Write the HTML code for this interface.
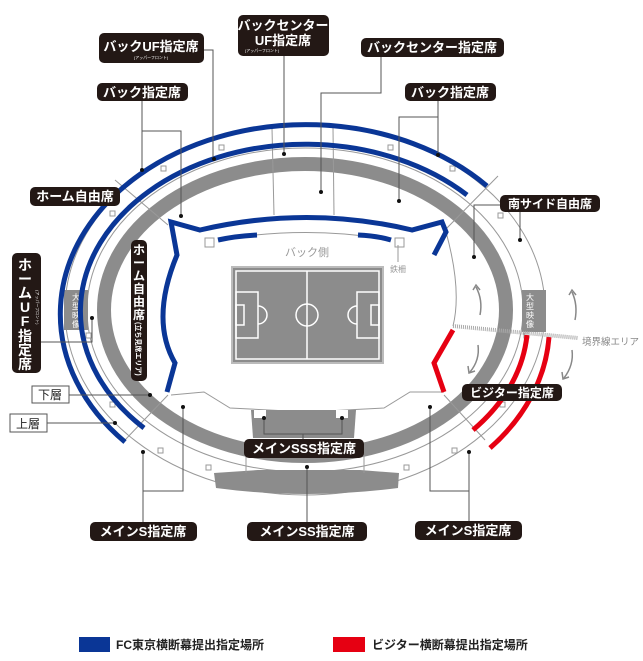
<!DOCTYPE html>
<html><head><meta charset="utf-8">
<style>
body{margin:0;background:#fff;width:643px;height:661px;overflow:hidden;position:relative;font-family:"Liberation Sans","Noto Sans CJK JP",sans-serif;}
svg{position:absolute;left:0;top:0}
</style></head><body>
<svg width="643" height="661" viewBox="0 0 643 661" font-family="Liberation Sans, Noto Sans CJK JP, sans-serif">
<ellipse cx="305" cy="310" rx="240" ry="185" fill="none" stroke="#999" stroke-width="1"/>
<ellipse cx="305" cy="310" rx="218" ry="162" fill="none" stroke="#999" stroke-width="1"/>
<path d="M214,473 L258,470 L360,470 L399,473 L398,488 Q305,500 216,488 Z" fill="#8c8c8c"/>
<ellipse cx="305" cy="310" rx="201" ry="146" fill="none" stroke="#8c8c8c" stroke-width="14"/>
<g stroke="#999" stroke-width="1" fill="none">
<line x1="272" y1="128" x2="274" y2="215"/><line x1="333" y1="128" x2="334" y2="215"/>
<line x1="115" y1="180" x2="168" y2="225"/><line x1="498" y1="176" x2="445" y2="230"/>
<line x1="125" y1="440" x2="168" y2="395"/><line x1="485" y1="440" x2="444" y2="395"/>
<line x1="246" y1="455" x2="246" y2="473"/><line x1="364" y1="455" x2="364" y2="473"/>
<path d="M171,395 L204,392 L230,408 L307,412 L384,408 L410,392 L444,392"/>
<path d="M446,232 Q462,290 453,326"/>
<path d="M218,240 Q307,225 391,240"/>
</g>
<g fill="#fff" stroke="#999" stroke-width="1">
<rect x="219" y="145" width="5" height="5"/><rect x="388" y="145" width="5" height="5"/>
<rect x="161" y="166" width="5" height="5"/><rect x="450" y="166" width="5" height="5"/>
<rect x="110" y="211" width="5" height="5"/><rect x="498" y="213" width="5" height="5"/>
<rect x="86" y="333" width="5" height="5"/><rect x="524" y="333" width="5" height="5"/>
<rect x="110" y="402" width="5" height="5"/><rect x="500" y="402" width="5" height="5"/>
<rect x="158" y="448" width="5" height="5"/><rect x="452" y="448" width="5" height="5"/>
<rect x="206" y="465" width="5" height="5"/><rect x="404" y="465" width="5" height="5"/>
<rect x="205" y="238" width="9" height="9"/><rect x="395" y="238" width="9" height="9"/>
</g>
<path d="M251,410 L356,410 L354,438 L253,438 Z" fill="#8c8c8c"/>
<rect x="254" y="410" width="12" height="8" fill="#fff"/><rect x="336" y="410" width="12" height="8" fill="#fff"/>
<rect x="64" y="290" width="24" height="40" fill="#8c8c8c"/>
<g font-size="8" fill="#fff" text-anchor="middle">
<text x="76" y="300">大</text><text x="76" y="309">型</text><text x="76" y="318">映</text><text x="76" y="327">像</text>
</g>
<rect x="522" y="290" width="24" height="42" fill="#8c8c8c"/>
<g font-size="8" fill="#fff" text-anchor="middle">
<text x="530" y="300">大</text><text x="530" y="309">型</text><text x="530" y="318">映</text><text x="530" y="327">像</text>
</g>
<g fill="none" stroke="#0a3696" stroke-width="5">
<path d="M125,442 A240,185 0 1 1 487,186"/>
<path d="M144,428 A218,162 0 1 1 467,195"/>
<path d="M167,392 L175,363 Q150,320 177,255 L171,222 L200,230 Q307,205 412,230 L442,222 L446,232 L434,255"/>
<path d="M218,240 Q236,236 257,235"/><path d="M358,235 Q378,236 391,240"/>
</g>
<g fill="none" stroke="#e60012" stroke-width="5">
<path d="M549,337 A240,185 0 0 1 490,448"/>
<path d="M527,335 A218,162 0 0 1 473,430"/>
<path d="M453,330 L434,363 L444,392"/>
</g>
<path d="M453,326 L578,338" stroke="#aaa" stroke-width="4" stroke-dasharray="1,1"/>
<text x="582" y="345" font-size="9.5" fill="#888">境界線エリア</text>
<g fill="none" stroke="#888" stroke-width="1.5">
<path d="M480,315 Q483,300 476,287"/><path d="M473,290 L476,285 L480,290"/>
<path d="M575,320 Q578,305 572,292"/><path d="M569,295 L572,290 L576,295"/>
<path d="M478,345 Q480,360 470,372"/><path d="M468,366 L469,373 L475,371"/>
<path d="M572,350 Q574,365 564,378"/><path d="M562,372 L563,379 L569,377"/>
</g>
<rect x="232" y="267" width="151" height="96" fill="#8c8c8c" stroke="#bbb" stroke-width="2"/>
<g fill="none" stroke="#fff" stroke-width="1.5">
<rect x="236" y="271" width="143" height="88"/>
<line x1="307" y1="271" x2="307" y2="359"/>
<circle cx="307" cy="315" r="11"/>
<rect x="236" y="292" width="22" height="46"/><rect x="236" y="305" width="8" height="20"/>
<rect x="357" y="292" width="22" height="46"/><rect x="371" y="305" width="8" height="20"/>
<path d="M258,306 A9,9 0 0 1 258,324"/><path d="M357,306 A9,9 0 0 0 357,324"/>
</g>
<text x="307" y="256" font-size="11" fill="#999" text-anchor="middle">バック側</text>
<text x="398" y="272" font-size="8" fill="#999" text-anchor="middle">鉄柵</text>
<line x1="398" y1="245" x2="398" y2="262" stroke="#999"/>
<g fill="none" stroke="#555" stroke-width="1">
<path d="M204,50 H213 V159"/><path d="M284,56 V154"/><path d="M381,57 V93 H321 V192"/>
<path d="M142,101 V170 M142,131 H181 V216"/><path d="M438,101 V155 M438,117 H399 V201"/>
<path d="M500,205 H474 V257"/><path d="M520,212 V240"/>
<path d="M41,342 H92 V318"/><path d="M69,395 H150"/><path d="M47,423 H115"/>
<path d="M143,522 V452 M143,491 H183 V407"/><path d="M307,522 V467"/>
<path d="M303,439 V434 M264,418 V434 H342 V418"/>
<path d="M469,521 V452 M469,491 H430 V407"/>
</g>
<g fill="#111">
<circle cx="214" cy="159" r="2"/><circle cx="284" cy="154" r="2"/><circle cx="321" cy="192" r="2"/>
<circle cx="142" cy="170" r="2"/><circle cx="181" cy="216" r="2"/><circle cx="438" cy="155" r="2"/>
<circle cx="399" cy="201" r="2"/><circle cx="474" cy="257" r="2"/><circle cx="520" cy="240" r="2"/>
<circle cx="92" cy="318" r="2"/><circle cx="150" cy="395" r="2"/><circle cx="115" cy="423" r="2"/>
<circle cx="143" cy="452" r="2"/><circle cx="183" cy="407" r="2"/><circle cx="307" cy="467" r="2"/>
<circle cx="264" cy="418" r="2"/><circle cx="342" cy="418" r="2"/><circle cx="469" cy="452" r="2"/><circle cx="430" cy="407" r="2"/>
</g>
<g fill="#231815">
<rect x="99" y="33" width="105" height="30" rx="5"/>
<rect x="238" y="15" width="91" height="41" rx="5"/>
<rect x="361" y="38" width="143" height="19" rx="5"/>
<rect x="97" y="83" width="91" height="18" rx="5"/>
<rect x="405" y="83" width="91" height="18" rx="5"/>
<rect x="30" y="187" width="90" height="19" rx="5"/>
<rect x="500" y="195" width="100" height="17" rx="5"/>
<rect x="462" y="384" width="100" height="17" rx="5"/>
<rect x="244" y="439" width="120" height="19" rx="5"/>
<rect x="90" y="522" width="107" height="19" rx="5"/>
<rect x="247" y="522" width="120" height="19" rx="5"/>
<rect x="415" y="521" width="107" height="19" rx="5"/>
<rect x="12" y="253" width="29" height="120" rx="5"/>
<rect x="131" y="240" width="16" height="141" rx="5"/>
</g>
<g fill="#fff" font-weight="bold" font-size="13" text-anchor="middle">
<text x="151" y="51">バックUF指定席</text>
<text x="151" y="59" font-size="4" font-weight="normal">(アッパーフロント)</text>
<text x="283" y="30">バックセンター</text>
<text x="283" y="45">UF指定席</text>
<text x="262" y="52" font-size="4" font-weight="normal">(アッパーフロント)</text>
<text x="432" y="52">バックセンター指定席</text>
<text x="142" y="97">バック指定席</text>
<text x="450" y="97">バック指定席</text>
<text x="75" y="201">ホーム自由席</text>
<text x="550" y="208" font-size="12">南サイド自由席</text>
<text x="512" y="397" font-size="12">ビジター指定席</text>
<text x="304" y="453">メインSSS指定席</text>
<text x="143" y="536">メインS指定席</text>
<text x="307" y="536">メインSS指定席</text>
<text x="468" y="535">メインS指定席</text>
</g>
<g fill="#fff" font-weight="bold" font-size="14" text-anchor="middle">
<text x="25" y="270">ホ</text><text x="25" y="284">ー</text><text x="25" y="298">ム</text>
<text x="25" y="312">U</text><text x="25" y="326">F</text><text x="25" y="341">指</text>
<text x="25" y="355">定</text><text x="25" y="369">席</text>
</g>
<text transform="translate(36,290) rotate(90)" font-size="4" fill="#fff">(アッパーフロント)</text>
<g fill="#fff" font-weight="bold" font-size="12" text-anchor="middle">
<text x="139" y="254">ホ</text><text x="139" y="267">ー</text><text x="139" y="280">ム</text>
<text x="139" y="293">自</text><text x="139" y="306">由</text><text x="139" y="319">席</text>
</g>
<text transform="translate(136,322) rotate(90)" font-size="7" fill="#fff" font-weight="bold">(立ち見席エリア)</text>
<rect x="32" y="386" width="37" height="17" fill="#fff" stroke="#555"/>
<text x="50" y="399" font-size="12" text-anchor="middle" fill="#222">下層</text>
<rect x="10" y="414" width="37" height="18" fill="#fff" stroke="#555"/>
<text x="28" y="428" font-size="12" text-anchor="middle" fill="#222">上層</text>
<rect x="79" y="637" width="31" height="15" fill="#0a3696"/>
<text x="116" y="649" font-size="12" font-weight="bold" fill="#222">FC東京横断幕提出指定場所</text>
<rect x="333" y="637" width="32" height="15" fill="#e60012"/>
<text x="372" y="649" font-size="12" font-weight="bold" fill="#222">ビジター横断幕提出指定場所</text>
</svg>
</body></html>
